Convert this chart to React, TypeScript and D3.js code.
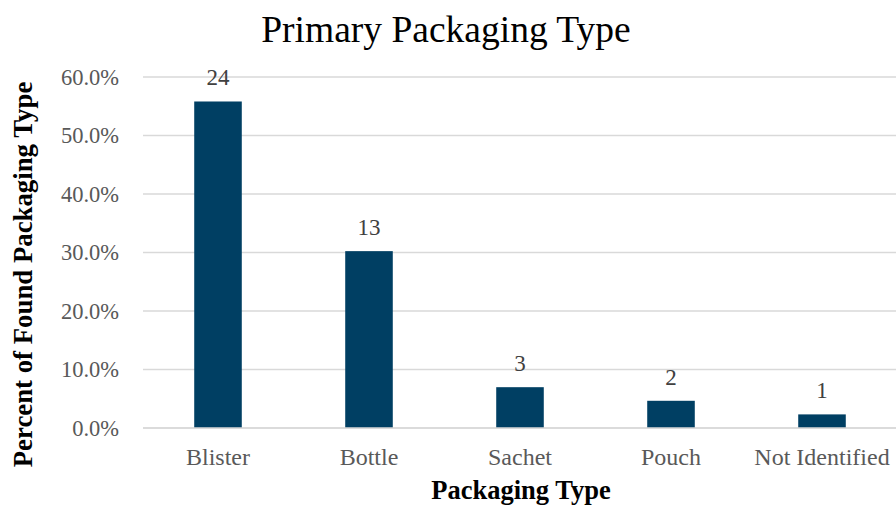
import React from "react";
import * as d3 from "d3";

const categories = ["Blister", "Bottle", "Sachet", "Pouch", "Not Identified"];
const counts = [24, 13, 3, 2, 1];
const yTicks = [0, 0.1, 0.2, 0.3, 0.4, 0.5, 0.6];
const title = "Primary Packaging Type";
const xTitle = "Packaging Type";
const yTitle = "Percent of Found Packaging Type";

const W = 896;
const H = 506;

export default function App() {
  const total = d3.sum(counts);
  const pct = counts.map((c) => c / total);
  const x = d3
    .scaleBand<string>()
    .domain(categories)
    .range([142.5, 897.5])
    .paddingInner(0.685)
    .paddingOuter(0.3425);
  const y = d3.scaleLinear().domain([0, 0.6]).range([428, 77]);
  const fmt = d3.format(".1%");
  const font = "'Liberation Serif', 'Times New Roman', serif";
  return (
    <svg
      width={W}
      height={H}
      style={{ position: "absolute", left: 0, top: 0, background: "#fff" }}
      fontFamily={font}
    >
      <text x={446} y={42} textAnchor="middle" fontSize={37.5} fill="#000">
        {title}
      </text>
      {yTicks.map((t) => (
        <g key={t}>
          <line x1={143} x2={896} y1={y(t)} y2={y(t)} stroke="#d9d9d9" strokeWidth={1.5} />
          <text x={119} y={y(t) + 7.5} textAnchor="end" fontSize={22.5} fill="#595959">
            {fmt(t)}
          </text>
        </g>
      ))}
      {categories.map((c, i) => (
        <g key={c}>
          <rect
            x={x(c)}
            y={y(pct[i])}
            width={x.bandwidth()}
            height={y(0) - y(pct[i])}
            fill="#003f63"
          />
          <text
            x={(x(c) as number) + x.bandwidth() / 2}
            y={y(pct[i]) - 16}
            textAnchor="middle"
            fontSize={23}
            fill="#404040"
          >
            {counts[i]}
          </text>
          <text
            x={(x(c) as number) + x.bandwidth() / 2}
            y={464.5}
            textAnchor="middle"
            fontSize={24}
            fill="#595959"
          >
            {c}
          </text>
        </g>
      ))}
      <line x1={143} x2={896} y1={y(0)} y2={y(0)} stroke="#d9d9d9" strokeWidth={1.5} />
      <text x={521} y={499} textAnchor="middle" fontSize={26.5} fontWeight="bold" fill="#000">
        {xTitle}
      </text>
      <text
        transform={`translate(32,${274.5}) rotate(-90)`}
        textAnchor="middle"
        fontSize={26.8}
        fontWeight="bold"
        fill="#000"
      >
        {yTitle}
      </text>
    </svg>
  );
}
